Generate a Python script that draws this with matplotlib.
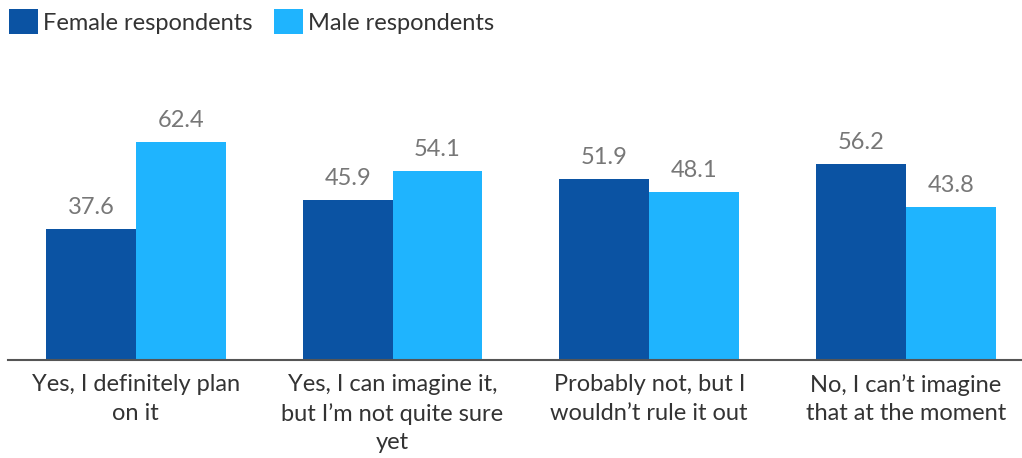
import matplotlib.pyplot as plt
import numpy as np

plt.rcParams['font.family'] = ['Lato', 'DejaVu Sans']

categories = ["Yes, I definitely plan\non it",
              "Yes, I can imagine it,\nbut I\u2019m not quite sure\nyet",
              "Probably not, but I\nwouldn\u2019t rule it out",
              "No, I can\u2019t imagine\nthat at the moment"]
female = [37.6, 45.9, 51.9, 56.2]
male = [62.4, 54.1, 48.1, 43.8]

fig = plt.figure(figsize=(10.22, 4.58), dpi=100)
ax = fig.add_axes([7.5 / 1022, 1 - 360 / 458, 1014.5 / 1022, 300 / 458])

x = np.arange(len(categories))
w = 0.35
b1 = ax.bar(x - w / 2, female, w, color="#0b53a3", label="Female respondents")
b2 = ax.bar(x + w / 2, male, w, color="#1fb4fe", label="Male respondents")

ax.bar_label(b1, fmt="%.1f", padding=8, fontsize=17, color="#777777")
ax.bar_label(b2, fmt="%.1f", padding=8, fontsize=17, color="#777777")

ax.set_xlim(-0.5, -0.5 + 1014.5 / 256.7)
ax.set_ylim(0, 300 / 3.49)
ax.set_xticks(x)
ax.set_xticklabels(categories, fontsize=17, color="#333333", linespacing=1.45)
ax.tick_params(axis="x", length=0, pad=10)
ax.set_yticks([])
for s in ["top", "right", "left"]:
    ax.spines[s].set_visible(False)
ax.spines["bottom"].set_color("#555555")
ax.spines["bottom"].set_linewidth(1.5)

fig.legend(handles=[b1, b2], loc="upper left", bbox_to_anchor=(0.0, 1.0),
           ncol=2, frameon=False, fontsize=17, handlelength=1.23,
           handleheight=1.23, handletextpad=0.2, columnspacing=0.9,
           borderaxespad=0.2, borderpad=0.2, labelcolor="#333333")

fig.savefig("out.png", dpi=100)
